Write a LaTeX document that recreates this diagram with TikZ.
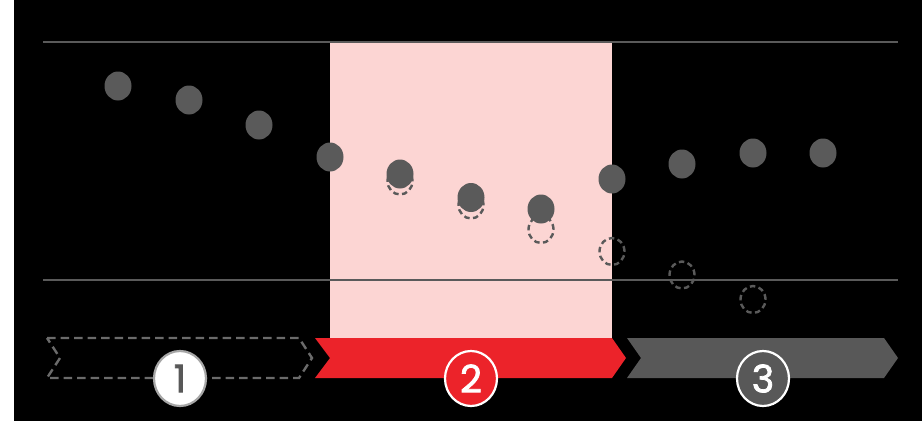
\documentclass[tikz,border=0pt]{standalone}
\usepackage{fontspec}
\setmainfont{Poppins}
\newfontfamily\badgefont{Poppins}[FakeBold=2]
\usepackage{tikz}
\usetikzlibrary{shapes.geometric, positioning}

\definecolor{dotgray}{HTML}{5A5A5A}
\definecolor{bandpink}{HTML}{FCD5D3}
\definecolor{stagered}{HTML}{EC232A}
\definecolor{stagegray}{HTML}{585858}

\begin{document}
\begin{tikzpicture}[
  x = 1pt, y = -1pt,
  dot/.style    = {ellipse, fill=dotgray, inner sep=0pt,
                   minimum width=27pt, minimum height=29pt},
  ghost/.style  = {ellipse, draw=dotgray, line width=2.4pt,
                   dash pattern=on 5.5pt off 3.5pt, inner sep=0pt,
                   minimum width=25pt, minimum height=27pt},
  limit/.style  = {draw=dotgray, line width=2.8pt},
  badge/.style  = {ellipse, line width=2.2pt, inner sep=0pt,
                   minimum width=52pt, minimum height=55pt,
                   font=\badgefont\fontsize{38}{38}\selectfont}
]
\useasboundingbox (0,0) rectangle (922,421);

% Background and highlighted band
\fill[white] (0,0) rectangle (14,421);
\fill[black] (14,0) rectangle (922,421);
\fill[bandpink] (330,42) rectangle (612,338);

% Limits
\coordinate (tl) at (43,42);
\coordinate (tr) at (898,42);
\coordinate (bl) at (43,280);
\coordinate (br) at (898,280);
\draw[limit] (tl) -- (tr);
\draw[limit] (bl) -- (br);

% Expected positions (dashed)
\node[ghost] (g5)  at (400,181) {};
\node[ghost] (g6)  at (471,205) {};
\node[ghost] (g7)  at (541,229.5) {};
\node[ghost] (g8)  at (612,251.5) {};
\node[ghost] (g9)  at (682,275) {};
\node[ghost] (g10) at (753,299.5) {};

% Measured points
\node[dot] (d1)  at (118,86) {};
\node[dot] (d2)  at (189,100) {};
\node[dot] (d3)  at (259,125) {};
\node[dot] (d4)  at (330,157) {};
\node[dot] (d5)  at (400,174) {};
\node[dot] (d6)  at (471,197.5) {};
\node[dot] (d7)  at (541,209) {};
\node[dot] (d8)  at (612,179) {};
\node[dot] (d9)  at (682,164) {};
\node[dot] (d10) at (753,153) {};
\node[dot] (d11) at (823,153) {};

% Stage chevrons
\draw[dotgray!90, line width=2.4pt, dash pattern=on 8.5pt off 5pt]
  (47,338) -- (299,338) -- (312,358) -- (299,378) -- (47,378) -- (60,358) -- cycle;
\fill[stagered]
  (315,338) -- (612,338) -- (626,358) -- (612,378) -- (315,378) -- (330,358) -- cycle;
\fill[stagegray]
  (627,338) -- (884,338) -- (898,358) -- (884,378) -- (627,378) -- (641,358) -- cycle;

% Stage badges
\node[badge, fill=white, draw=gray!70, text=stagegray] (s1) at (180,378.5) {1};
\node[badge, fill=stagered, draw=white, text=white]    (s2) at (471,378.5) {2};
\node[badge, fill=stagegray, draw=white, text=white]   (s3) at (763,378.5) {3};
\end{tikzpicture}
\end{document}
